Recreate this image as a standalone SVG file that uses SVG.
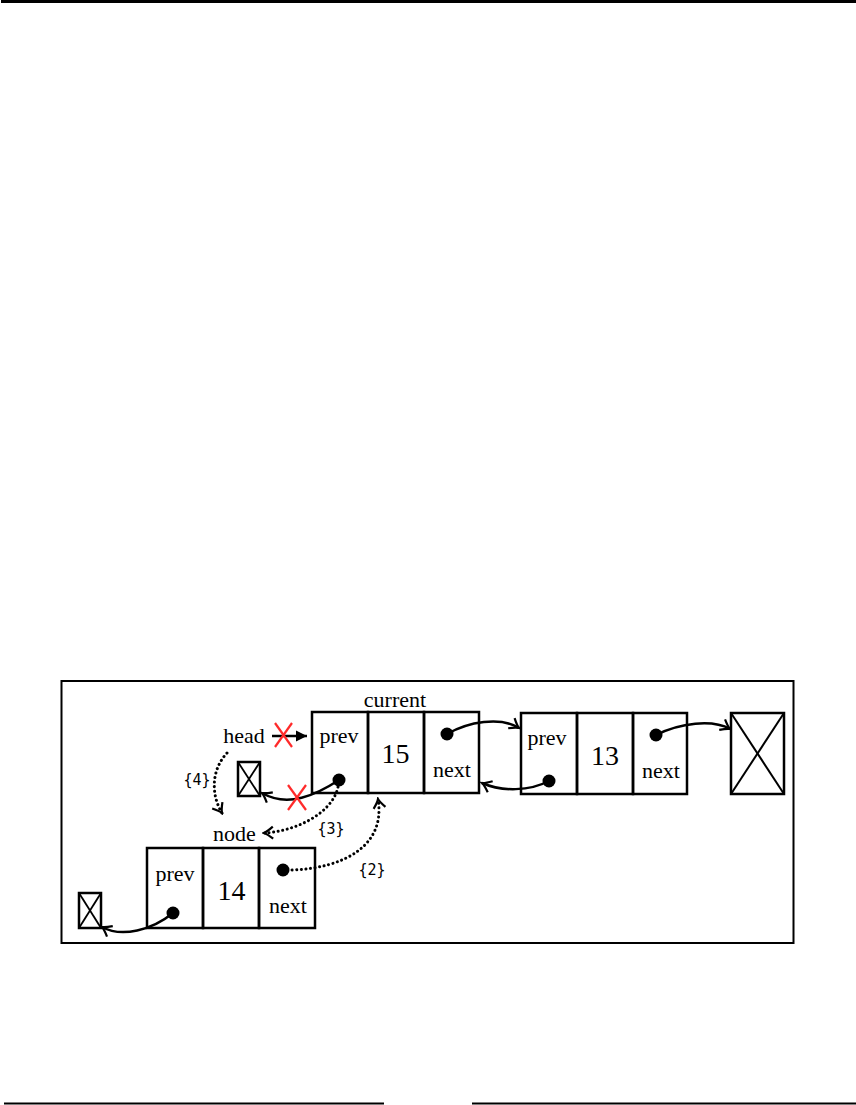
<svg xmlns="http://www.w3.org/2000/svg" width="856" height="1105" viewBox="0 0 856 1105">
<defs>
<style>
.cell{fill:none;stroke:#000;stroke-width:2.5}
.t{font-family:"Liberation Serif",serif;font-size:22px;fill:#000;text-anchor:middle}
.big{font-family:"Liberation Serif",serif;font-size:28px;fill:#000;text-anchor:middle}
.lab{font-family:"DejaVu Sans Mono",monospace;font-size:15px;fill:#000;text-anchor:middle}
.ptr{fill:none;stroke:#000;stroke-width:2.5;marker-end:url(#open)}
.dot{fill:none;stroke:#000;stroke-width:3;stroke-dasharray:0.1 4.5;stroke-linecap:round;marker-end:url(#open)}
.x{stroke:#ff2a2a;stroke-width:2.2}
</style>
<marker id="open" viewBox="-12 -8 14 16" markerWidth="14" markerHeight="16" refX="0" refY="0" orient="auto" markerUnits="userSpaceOnUse">
<path d="M-9,-6 Q-3,-1 0,0 Q-3,1 -9,6" fill="none" stroke="#000" stroke-width="2.2"/>
</marker>
<marker id="solid" viewBox="-12 -7 14 14" markerWidth="14" markerHeight="14" refX="0" refY="0" orient="auto" markerUnits="userSpaceOnUse">
<path d="M-11,-5.5 L0,0 L-11,5.5 Z" fill="#000"/>
</marker>
</defs>
<line x1="1" y1="1.5" x2="856" y2="1.5" stroke="#000" stroke-width="3"/>
<line x1="4" y1="1103.5" x2="384" y2="1103.5" stroke="#000" stroke-width="2"/>
<line x1="472" y1="1103.5" x2="856" y2="1103.5" stroke="#000" stroke-width="2"/>
<rect x="61.5" y="681" width="732" height="262" fill="none" stroke="#000" stroke-width="2"/>

<g id="node15">
<rect class="cell" x="312" y="712" width="56" height="81"/>
<rect class="cell" x="368" y="712" width="56" height="81"/>
<rect class="cell" x="424" y="712" width="55" height="81"/>
<text class="t" x="395" y="707">current</text>
<text class="t" x="339" y="743">prev</text>
<text class="big" x="395.5" y="763">15</text>
<text class="t" x="452" y="777">next</text>
<circle cx="339" cy="780" r="6.5"/>
<circle cx="447" cy="734" r="6.5"/>
</g>

<g id="node13">
<rect class="cell" x="521" y="713" width="56" height="81"/>
<rect class="cell" x="577" y="713" width="56" height="81"/>
<rect class="cell" x="633" y="713" width="54" height="81"/>
<text class="t" x="547" y="745">prev</text>
<text class="big" x="605" y="765">13</text>
<text class="t" x="661" y="778">next</text>
<circle cx="549" cy="781" r="6.5"/>
<circle cx="656" cy="735" r="6.5"/>
</g>

<g id="null-right">
<rect class="cell" x="731" y="713" width="53" height="81"/>
<line x1="731" y1="713" x2="784" y2="794" stroke="#000" stroke-width="2"/>
<line x1="784" y1="713" x2="731" y2="794" stroke="#000" stroke-width="2"/>
</g>

<g id="node14">
<rect class="cell" x="147" y="848" width="56" height="80"/>
<rect class="cell" x="203" y="848" width="56" height="80"/>
<rect class="cell" x="259" y="848" width="56" height="80"/>
<text class="t" x="234.5" y="841">node</text>
<text class="t" x="175" y="881">prev</text>
<text class="big" x="231.5" y="900">14</text>
<text class="t" x="288" y="913">next</text>
<circle cx="283" cy="870" r="6.5"/>
<circle cx="173" cy="913" r="6.5"/>
</g>

<g id="null-mid">
<rect class="cell" x="238" y="762" width="22" height="34"/>
<line x1="238" y1="762" x2="260" y2="796" stroke="#000" stroke-width="1.8"/>
<line x1="260" y1="762" x2="238" y2="796" stroke="#000" stroke-width="1.8"/>
</g>

<g id="null-left">
<rect class="cell" x="79" y="893" width="22" height="35"/>
<line x1="79" y1="893" x2="101" y2="928" stroke="#000" stroke-width="1.8"/>
<line x1="101" y1="893" x2="79" y2="928" stroke="#000" stroke-width="1.8"/>
</g>

<g id="head">
<text class="t" x="244" y="743">head</text>
</g>

<g id="connectors">
<path class="ptr" d="M447,734 C468,722 500,716 519,728"/>
<path class="ptr" d="M549,781 C530,791 502,792 482,783"/>
<path class="ptr" d="M656,735 C680,723 712,719 730,729"/>
<path class="ptr" d="M173,913 C152,930 122,938 102,927"/>
<path class="ptr" d="M339,780 C316,795 288,808 262,793"/>
<path d="M272,736 L307,736" fill="none" stroke="#000" stroke-width="2.5" marker-end="url(#solid)"/>
<path class="dot" d="M227,753 C211,770 211,795 222,813"/>
<path class="dot" d="M338,787 C332,815 292,832 264,833"/>
<path class="dot" d="M292,870 C345,868 386,845 378,799"/>
<line class="x" x1="275" y1="723" x2="292" y2="747"/>
<line class="x" x1="292" y1="723" x2="275" y2="747"/>
<line class="x" x1="288" y1="785" x2="306" y2="810"/>
<line class="x" x1="306" y1="785" x2="288" y2="810"/>
<text class="lab" x="197" y="785">{4}</text>
<text class="lab" x="331" y="834">{3}</text>
<text class="lab" x="372" y="875">{2}</text>
</g>
</svg>
